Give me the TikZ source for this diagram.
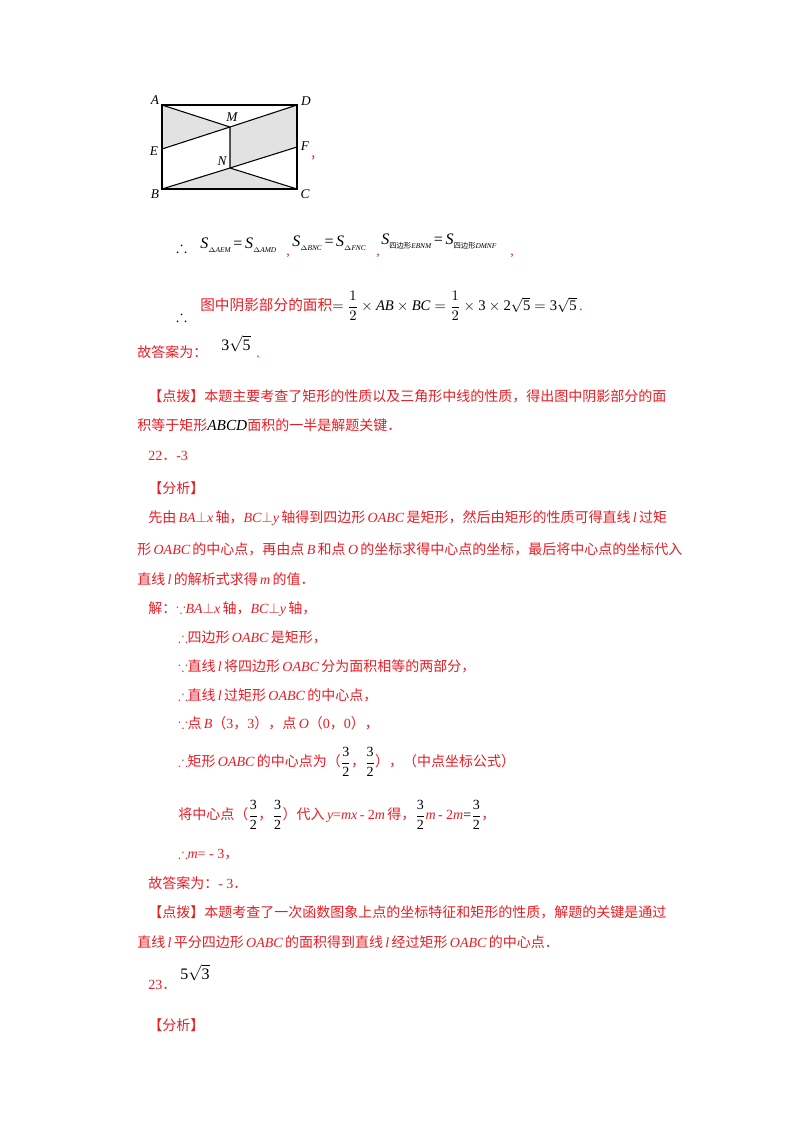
\documentclass[tikz,border=0pt]{standalone}
\usepackage{amsmath,amssymb}
\usepackage{fontspec}
\setmainfont{Noto Sans CJK SC}
\newfontfamily\lt{Liberation Serif}
\newcommand{\mi}[1]{\mbox{\lt\itshape #1}}
\newcommand{\nm}[1]{\mbox{\lt #1}}
\newcommand{\pp}{$\perp$}
\definecolor{rd}{RGB}{232,28,36}
\definecolor{sh}{RGB}{226,226,226}
\newcommand{\bk}[1]{\textcolor{black}{#1}}
\newcommand{\Ss}[2]{\mi{S}\raisebox{-3pt}{\fontsize{5.5pt}{6pt}\selectfont #1\mi{#2}}}
\begin{document}
\begin{tikzpicture}[x=0.75pt,y=-0.75pt,
  t/.style={anchor=west,inner sep=0,text=rd,font=\fontsize{10.5pt}{13pt}\selectfont},
  tb/.style={anchor=west,inner sep=0,text=black,font=\fontsize{12pt}{14pt}\selectfont},
  lab/.style={inner sep=0,font=\fontsize{10pt}{12pt}\selectfont\lt\itshape}]
\useasboundingbox (0,0) rectangle (800,1132);
% diagram
\coordinate (A) at (162,105); \coordinate (D) at (297,105);
\coordinate (B) at (162,189); \coordinate (C) at (297,189);
\coordinate (E) at (162,149); \coordinate (F) at (297,147);
\coordinate (M) at (230,127); \coordinate (N) at (230,168);
\fill[sh] (A)--(M)--(E)--cycle;
\fill[sh] (M)--(D)--(F)--(N)--cycle;
\fill[sh] (B)--(N)--(C)--cycle;
\draw[line width=0.8pt] (A)--(D)--(C)--(B)--cycle;
\draw[line width=0.8pt] (A)--(M)--(D) (E)--(M)--(N)--(F) (B)--(N)--(C);
\node[lab] (lA) at (155,100) {A};
\node[lab] (lD) at (306,101) {D};
\node[lab] (lM) at (232,117) {M};
\node[lab] (lE) at (154,151) {E};
\node[lab] (lF) at (305,146) {F};
\node[lab] (lN) at (222,161) {N};
\node[lab] (lB) at (155,194) {B};
\node[lab] (lC) at (305,194) {C};
\node[t] (c0) at (311,158) {,};
% formulas
\node[tb] (th1) at (176,247) {$\therefore$};
\node[tb] (f1) at (200,245) {\Ss{$\Delta$}{AEM}\,\nm{=}\,\Ss{$\Delta$}{AMD}};
\node[t] (c1) at (286,256) {\nm{,}};
\node[tb] (f1b) at (292,243) {\Ss{$\Delta$}{BNC}\,\nm{=}\,\Ss{$\Delta$}{FNC}};
\node[t] (c2) at (376,256) {\nm{,}};
\node[tb] (f1c) at (381,242) {\Ss{四边形}{EBNM}\,\nm{=}\,\Ss{四边形}{DMNF}};
\node[t] (c3) at (510,256) {\nm{,}};
\node[tb] (f2a) at (176,316) {$\therefore$};
\node[t] (f2) at (200,306) {\fontsize{11pt}{14pt}\selectfont 图中阴影部分的面积\bk{$=\dfrac12\times \mi{AB}\times \mi{BC}=\dfrac12\times\nm{3}\times\nm{2}\sqrt{\nm{5}}=\nm{3}\sqrt{\nm{5}}$}\,\nm{.}};
\node[t] (g1) at (137,352) {故答案为：};
\node[tb] (g2) at (221,344) {\nm{3}$\sqrt{\nm{5}}$};
\node[t] (g3) at (256,357) {\nm{.}};
\node[t] (p1) at (148,396) {【点拨】本题主要考查了矩形的性质以及三角形中线的性质，得出图中阴影部分的面};
\node[t] (p2) at (137,425) {积等于矩形\bk{\fontsize{11.5pt}{14pt}\selectfont\mi{ABCD}}面积的一半是解题关键．};
\node[t] (n22) at (148,456) {\nm{22}．\nm{-3}};
\node[t] (a1) at (148,488) {【分析】};
\node[t] (s1) at (148,518) {先由\,\mi{BA}\pp\mi{x}\,轴，\mi{BC}\pp\mi{y}\,轴得到四边形\,\mi{OABC}\,是矩形，然后由矩形的性质可得直线\,\mi{l}\,过矩};
\node[t] (s2) at (137,549) {形\,\mi{OABC}\,的中心点，再由点\,\mi{B}\,和点\,\mi{O}\,的坐标求得中心点的坐标，最后将中心点的坐标代入};
\node[t] (s3) at (137,579) {直线\,\mi{l}\,的解析式求得\,\mi{m}\,的值．};
\node[t] (j1) at (148,609) {解：$\because$\mi{BA}\pp\mi{x}\,轴，\mi{BC}\pp\mi{y}\,轴，};
\node[t] (j2) at (178,637) {$\therefore$四边形\,\mi{OABC}\,是矩形，};
\node[t] (j3) at (178,666) {$\because$直线\,\mi{l}\,将四边形\,\mi{OABC}\,分为面积相等的两部分，};
\node[t] (j4) at (178,695) {$\therefore$直线\,\mi{l}\,过矩形\,\mi{OABC}\,的中心点，};
\node[t] (j5) at (178,723) {$\because$点\,\mi{B}（\nm{3}，\nm{3}），点\,\mi{O}（\nm{0}，\nm{0}），};
\node[t] (j6) at (178,762) {$\therefore$矩形\,\mi{OABC}\,的中心点为（\bk{$\dfrac{\nm{3}}{\nm{2}}$}，\bk{$\dfrac{\nm{3}}{\nm{2}}$}），（中点坐标公式）};
\node[t] (j7) at (178,815) {将中心点（\bk{$\dfrac{\nm{3}}{\nm{2}}$}，\bk{$\dfrac{\nm{3}}{\nm{2}}$}）代入\,\mi{y}\nm{=}\mi{mx}\,\nm{- 2}\mi{m}\,得，\bk{$\dfrac{\nm{3}}{\nm{2}}$}\mi{m}\,\nm{- 2}\mi{m}\bk{\nm{=}$\dfrac{\nm{3}}{\nm{2}}$}，};
\node[t] (j8) at (178,854) {$\therefore$\mi{m}\nm{= - 3}，};
\node[t] (k1) at (148,883) {故答案为：\nm{- 3}．};
\node[t] (k2) at (148,912) {【点拨】本题考查了一次函数图象上点的坐标特征和矩形的性质，解题的关键是通过};
\node[t] (k3) at (137,942) {直线\,\mi{l}\,平分四边形\,\mi{OABC}\,的面积得到直线\,\mi{l}\,经过矩形\,\mi{OABC}\,的中心点．};
\node[t] (n23) at (148,985) {\nm{23}．};
\node[tb] (n23v) at (180,973) {\nm{5}$\sqrt{\nm{3}}$};
\node[t] (a2) at (148,1025) {【分析】};
\end{tikzpicture}
\end{document}
